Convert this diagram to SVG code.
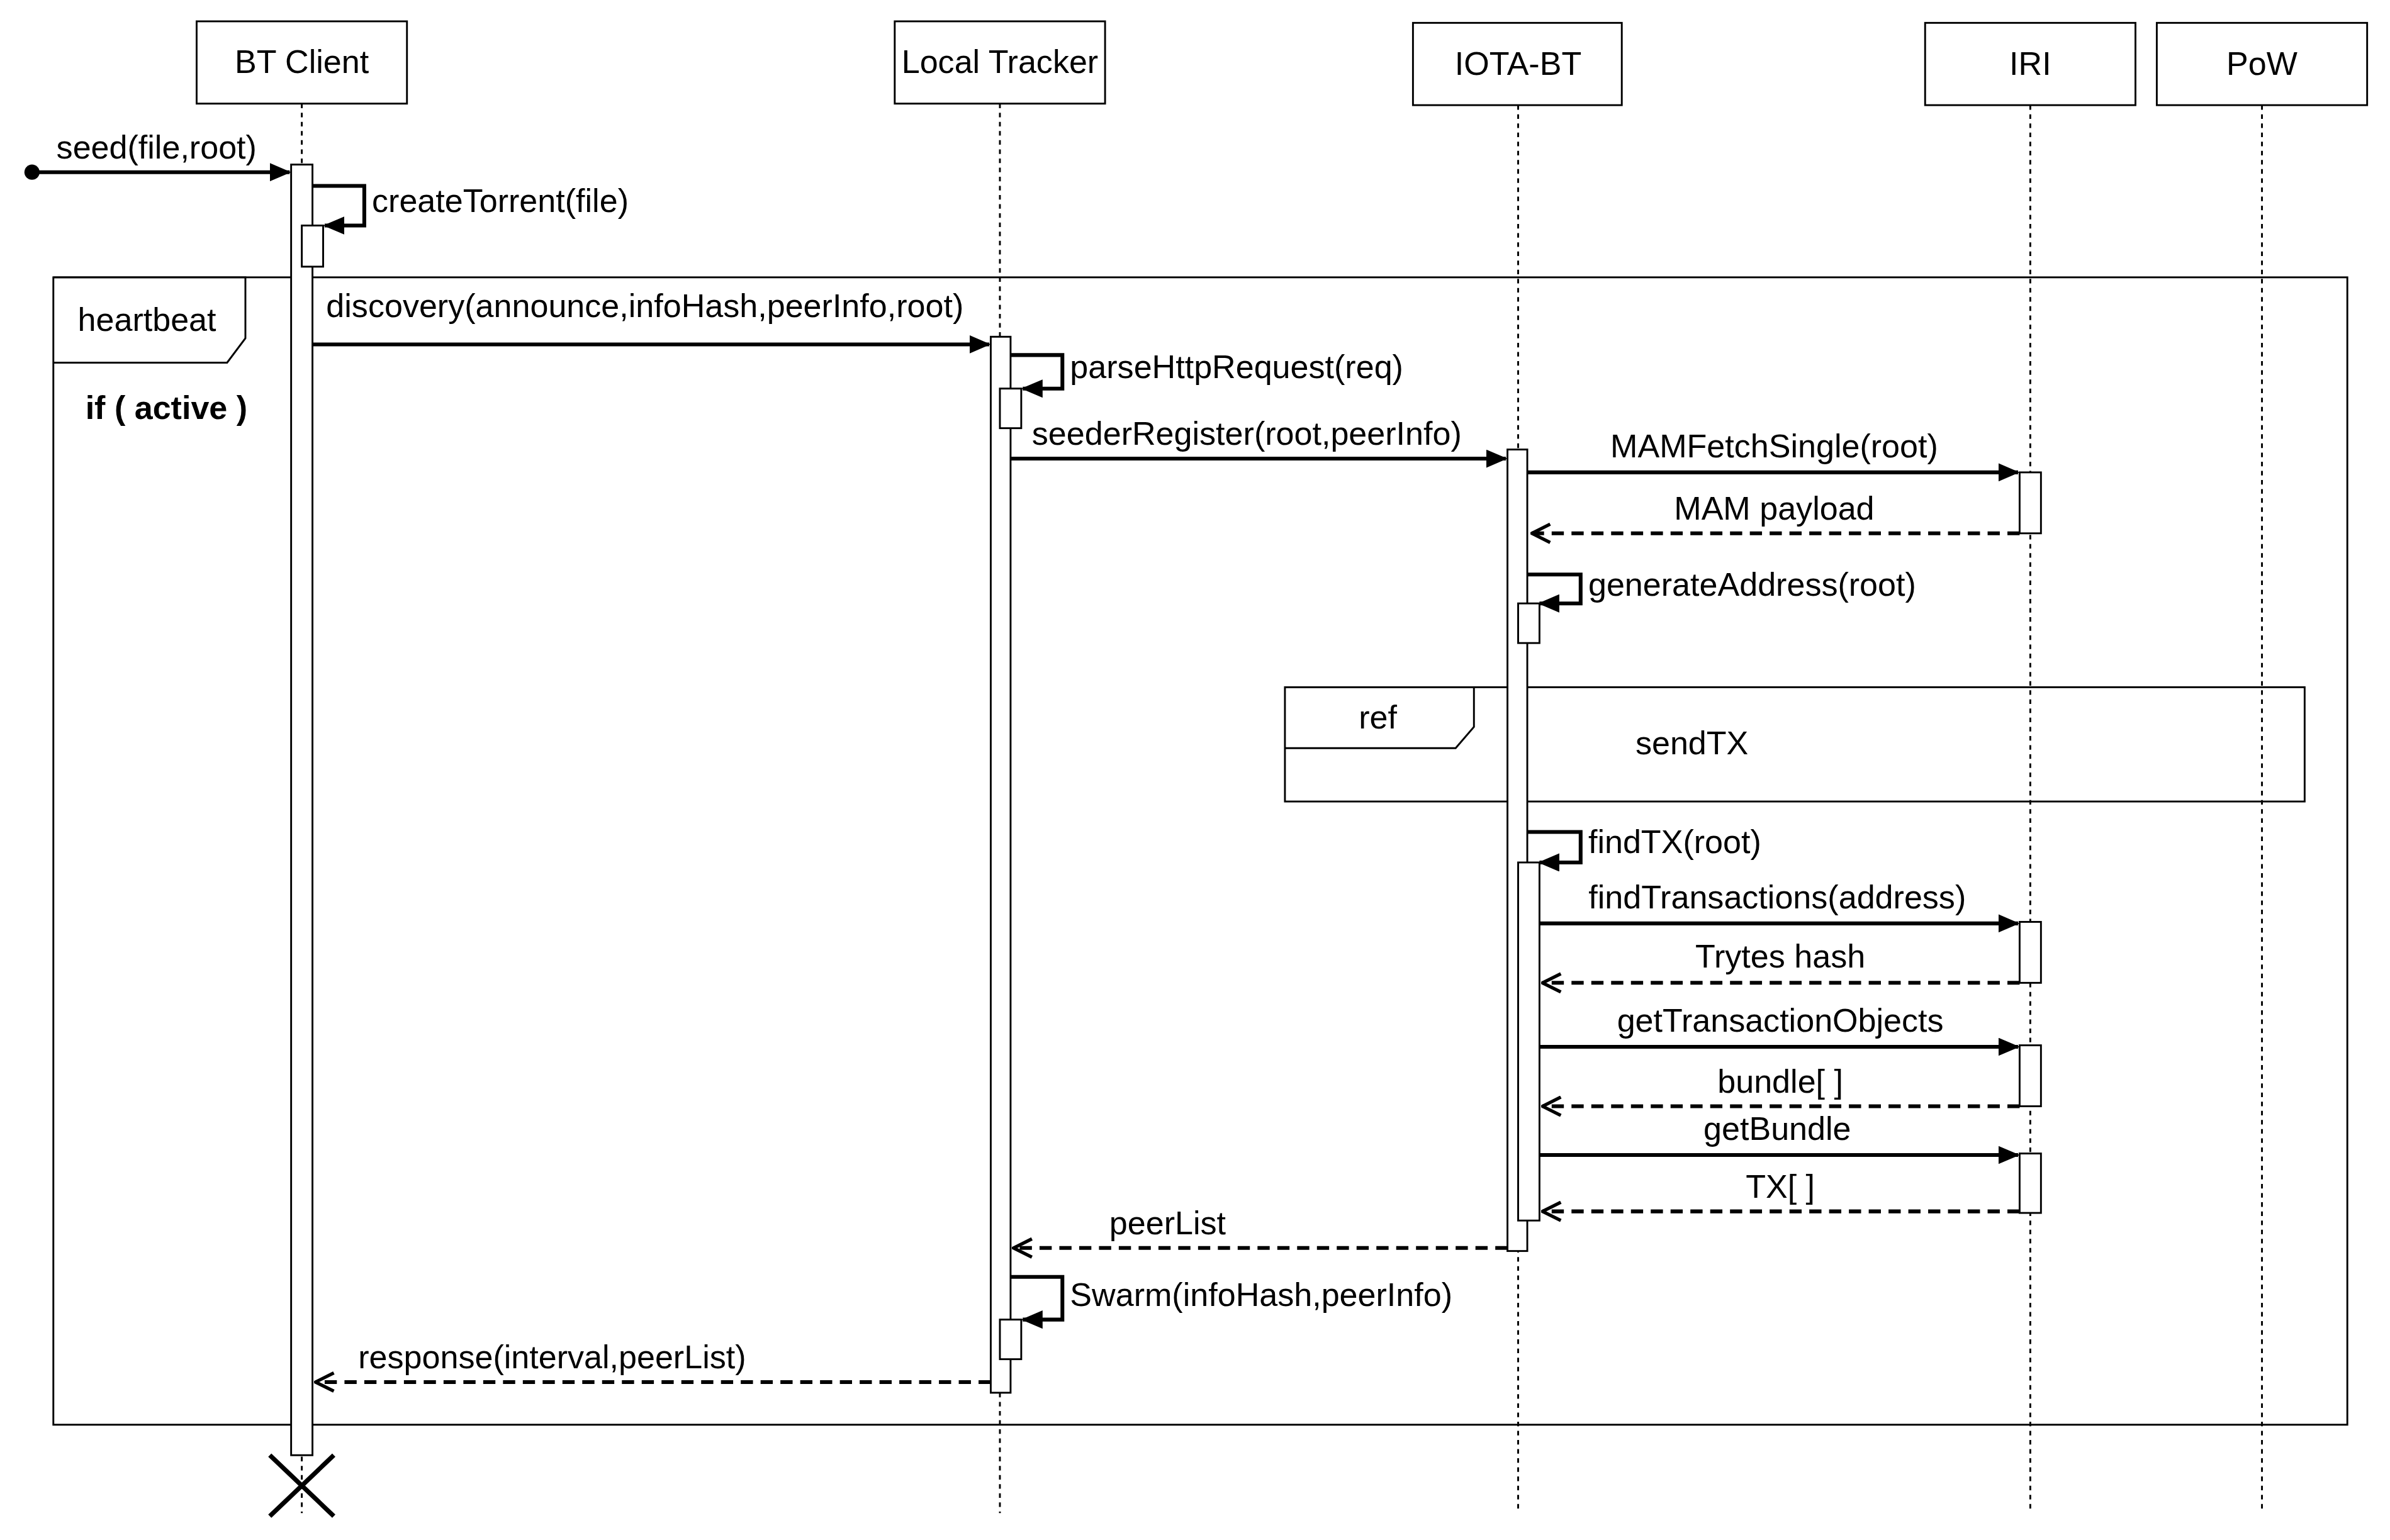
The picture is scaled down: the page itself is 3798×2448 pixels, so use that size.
<svg xmlns="http://www.w3.org/2000/svg" width="3798" height="2448" viewBox="0 0 3798 2448">
<style>
text{font-family:"Liberation Sans",Arial,sans-serif;font-size:21.5px;fill:#000}
.box{fill:#fff;stroke:#000;stroke-width:1.2}
.life{stroke:#000;stroke-width:1.2;stroke-dasharray:3,3;fill:none}
.act{fill:#fff;stroke:#000;stroke-width:1.2}
.msg{stroke:#000;stroke-width:2.5;fill:none;marker-end:url(#fa)}
.ret{stroke:#000;stroke-width:2.5;fill:none;stroke-dasharray:8,5;marker-end:url(#oa)}
.frm{fill:none;stroke:#000;stroke-width:1.2}
.c{text-anchor:middle}
</style>
<defs>
<marker id="fa" viewBox="0 0 14 12" refX="13" refY="6" markerWidth="14" markerHeight="12" markerUnits="userSpaceOnUse" orient="auto"><path d="M0,0 L14,6 L0,12 Z" fill="#000"/></marker>
<marker id="oa" viewBox="0 0 14 14" refX="13" refY="7" markerWidth="14" markerHeight="14" markerUnits="userSpaceOnUse" orient="auto"><path d="M1,1 L13,7 L1,13" fill="none" stroke="#000" stroke-width="2.2"/></marker>
</defs>
<rect width="3798" height="2448" fill="#fff"/>
<g transform="scale(2.4222)">
<g id="frames">
<rect class="frm" x="35" y="182" width="1505" height="753"/>
<path class="frm" d="M35,182 H161 V222 L149,238 H35"/>
<text x="51" y="217">heartbeat</text>
<text x="56" y="275" style="font-weight:bold">if ( active )</text>
<rect class="frm" x="843" y="451" width="669" height="75" fill="#fff"/>
<path class="frm" d="M843,451 H967 V477 L955,491 H843"/>
<text x="904" y="478" class="c">ref</text>
<text x="1110" y="495" class="c">sendTX</text>
</g>
<g id="bt"><rect class="box" x="129" y="14" width="138" height="54"/><text x="198" y="48" class="c">BT Client</text><line class="life" x1="198" y1="68" x2="198" y2="993"/></g>
<g id="lt"><rect class="box" x="587" y="14" width="138" height="54"/><text x="656" y="48" class="c">Local Tracker</text><line class="life" x1="656" y1="68" x2="656" y2="993"/></g>
<g id="iota"><rect class="box" x="927" y="15" width="137" height="54"/><text x="996" y="49" class="c">IOTA-BT</text><line class="life" x1="996" y1="69" x2="996" y2="993"/></g>
<g id="iri"><rect class="box" x="1263" y="15" width="138" height="54"/><text x="1332" y="49" class="c">IRI</text><line class="life" x1="1332" y1="69" x2="1332" y2="993"/></g>
<g id="pow"><rect class="box" x="1415" y="15" width="138" height="54"/><text x="1484" y="49" class="c">PoW</text><line class="life" x1="1484" y1="69" x2="1484" y2="993"/></g>
<g id="activations">
<rect class="act" x="191" y="108" width="14" height="847"/>
<rect class="act" x="198" y="148" width="14" height="27"/>
<rect class="act" x="650" y="221" width="13" height="693"/>
<rect class="act" x="656" y="255" width="14" height="26"/>
<rect class="act" x="656" y="866" width="14" height="26"/>
<rect class="act" x="989" y="295" width="13" height="526"/>
<rect class="act" x="996" y="396" width="14" height="26"/>
<rect class="act" x="996" y="566" width="14" height="235"/>
<rect class="act" x="1325" y="310" width="14" height="40"/>
<rect class="act" x="1325" y="605" width="14" height="40"/>
<rect class="act" x="1325" y="686" width="14" height="40"/>
<rect class="act" x="1325" y="757" width="14" height="39"/>
</g>
<g id="connectors">
<circle cx="21" cy="113" r="5" fill="#000"/>
<line class="msg" x1="21" y1="113" x2="190" y2="113"/><text x="37" y="104">seed(file,root)</text>
<path class="msg" d="M205,122 H239 V148 H213"/><text x="244" y="139">createTorrent(file)</text>
<line class="msg" x1="205" y1="226" x2="649" y2="226"/><text x="214" y="208">discovery(announce,infoHash,peerInfo,root)</text>
<path class="msg" d="M663,233 H697 V255 H671"/><text x="702" y="248">parseHttpRequest(req)</text>
<line class="msg" x1="663" y1="301" x2="988" y2="301"/><text x="677" y="292">seederRegister(root,peerInfo)</text>
<line class="msg" x1="1002" y1="310" x2="1324" y2="310"/><text x="1164" y="300" class="c">MAMFetchSingle(root)</text>
<line class="ret" x1="1325" y1="350" x2="1005" y2="350"/><text x="1164" y="341" class="c">MAM payload</text>
<path class="msg" d="M1002,377 H1037 V396 H1010"/><text x="1042" y="391">generateAddress(root)</text>
<path class="msg" d="M1002,546 H1037 V566 H1010"/><text x="1042" y="560">findTX(root)</text>
<line class="msg" x1="1010" y1="606" x2="1324" y2="606"/><text x="1166" y="596" class="c">findTransactions(address)</text>
<line class="ret" x1="1325" y1="645" x2="1012" y2="645"/><text x="1168" y="635" class="c">Trytes hash</text>
<line class="msg" x1="1010" y1="687" x2="1324" y2="687"/><text x="1168" y="677" class="c">getTransactionObjects</text>
<line class="ret" x1="1325" y1="726" x2="1012" y2="726"/><text x="1168" y="717" class="c">bundle[ ]</text>
<line class="msg" x1="1010" y1="758" x2="1324" y2="758"/><text x="1166" y="748" class="c">getBundle</text>
<line class="ret" x1="1325" y1="795" x2="1012" y2="795"/><text x="1168" y="786" class="c">TX[ ]</text>
<line class="ret" x1="989" y1="819" x2="665" y2="819"/><text x="766" y="810" class="c">peerList</text>
<path class="msg" d="M663,838 H697 V866 H671"/><text x="702" y="857">Swarm(infoHash,peerInfo)</text>
<line class="ret" x1="650" y1="907" x2="207" y2="907"/><text x="235" y="898">response(interval,peerList)</text>
<path d="M177,955 L219,995 M219,955 L177,995" stroke="#000" stroke-width="3"/>
</g>
</g>
</svg>
